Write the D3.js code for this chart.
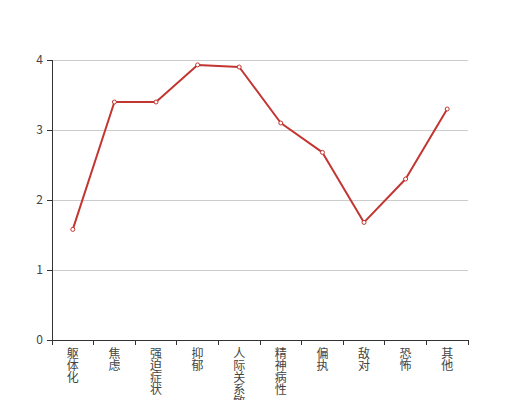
<!DOCTYPE html>
<html>
<head>
<meta charset="utf-8">
<script src="https://cdn.jsdelivr.net/npm/d3@7"></script>
<style>
  body { margin: 0; background: #fff; }
  svg text { font-family: "Noto Sans CJK SC", "DejaVu Sans", sans-serif; }
</style>
</head>
<body>
<div id="chart"></div>
<script>
// Catégories et valeurs
const categories = ["躯体化", "焦虑", "强迫症状", "抑郁", "人际关系敏感", "精神病性", "偏执", "敌对", "恐怖", "其他"];
const values = [1.58, 3.40, 3.40, 3.93, 3.90, 3.10, 2.68, 1.68, 2.30, 3.30];
const yTicks = [0, 1, 2, 3, 4];

const width = 520, height = 400;
const margin = { left: 52, right: 52, top: 60, bottom: 60 };

const svg = d3.select("#chart").append("svg")
    .attr("width", width)
    .attr("height", height);

// Échelles
const x = d3.scaleBand()
    .domain(categories)
    .range([margin.left, width - margin.right]);

const y = d3.scaleLinear()
    .domain([0, 4])
    .range([height - margin.bottom, margin.top]);

// Lignes de grille
svg.append("g")
    .selectAll("line")
    .data(yTicks.filter(d => d > 0))
    .join("line")
    .attr("x1", margin.left)
    .attr("x2", width - margin.right)
    .attr("y1", d => y(d))
    .attr("y2", d => y(d))
    .attr("stroke", "#ccc")
    .attr("stroke-width", 1)
    .attr("shape-rendering", "crispEdges");

// Axe Y
const yAxis = svg.append("g")
    .attr("transform", `translate(${margin.left},0)`)
    .call(d3.axisLeft(y).tickValues(yTicks).tickFormat(d3.format("d")).tickSize(5).tickPadding(4));
yAxis.selectAll("path, line").attr("stroke", "#333").attr("shape-rendering", "crispEdges");
yAxis.selectAll("text").attr("fill", "#444").attr("font-size", 12);
yAxis.select(".domain").attr("d", `M-5,${y(4)}H0V${y(0)}`);

// Axe X
const xAxisG = svg.append("g")
    .attr("transform", `translate(0,${y(0)})`);
xAxisG.append("line")
    .attr("x1", margin.left)
    .attr("x2", width - margin.right)
    .attr("stroke", "#333")
    .attr("shape-rendering", "crispEdges");

const boundaries = categories.map(c => x(c)).concat([x(categories[categories.length - 1]) + x.bandwidth()]);
xAxisG.selectAll("line.tick")
    .data(boundaries)
    .join("line")
    .attr("class", "tick")
    .attr("x1", d => d)
    .attr("x2", d => d)
    .attr("y1", 0)
    .attr("y2", 5)
    .attr("stroke", "#333")
    .attr("shape-rendering", "crispEdges");

// Étiquettes verticales (écriture verticale)
xAxisG.selectAll("text.label")
    .data(categories)
    .join("text")
    .attr("class", "label")
    .attr("x", d => x(d) + x.bandwidth() / 2)
    .attr("y", 7)
    .style("writing-mode", "vertical-rl")
    .style("text-orientation", "upright")
    .style("letter-spacing", "0.2px")
    .attr("fill", "#444")
    .attr("font-size", 12)
    .text(d => d);

// Ligne
const line = d3.line()
    .x((d, i) => x(categories[i]) + x.bandwidth() / 2)
    .y(d => y(d));

svg.append("path")
    .datum(values)
    .attr("fill", "none")
    .attr("stroke", "#c23531")
    .attr("stroke-width", 2)
    .attr("stroke-linejoin", "bevel")
    .attr("d", line);

// Points
svg.selectAll("circle.pt")
    .data(values)
    .join("circle")
    .attr("class", "pt")
    .attr("cx", (d, i) => x(categories[i]) + x.bandwidth() / 2)
    .attr("cy", d => y(d))
    .attr("r", 2)
    .attr("fill", "#fff")
    .attr("stroke", "#c23531")
    .attr("stroke-width", 1);
</script>
</body>
</html>
